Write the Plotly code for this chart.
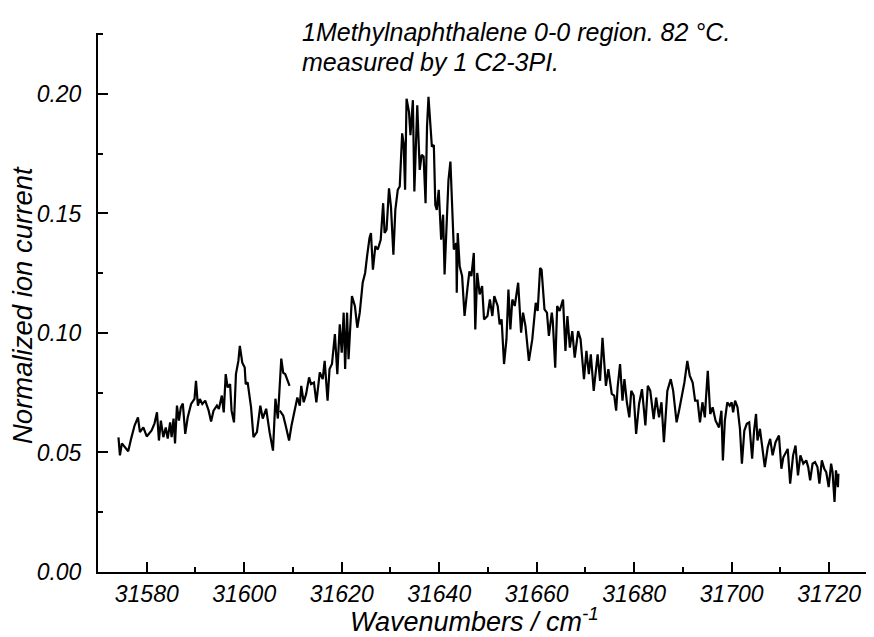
import plotly.graph_objects as go

# Scan 1 (ends ~31609 cm-1)
wn_a = [31574.2, 31574.5, 31574.9, 31576.2, 31576.8, 31577.5, 31578.2, 31578.6, 31579.3, 31580.0,
        31581.0, 31581.6, 31582.1, 31582.5, 31582.9, 31583.4, 31583.9, 31584.3, 31584.8, 31585.1,
        31585.5, 31585.8, 31586.2, 31586.6, 31587.0, 31587.4, 31587.9, 31588.4, 31589.1, 31589.8,
        31590.1, 31590.5, 31590.9, 31591.4, 31592.0, 31592.7, 31593.2, 31593.7, 31594.4, 31594.8,
        31595.4, 31595.8, 31596.2, 31596.6, 31597.1, 31597.4, 31597.9, 31598.3, 31598.8, 31599.1,
        31599.6, 31600.1, 31600.3, 31600.7, 31601.4, 31601.9, 31602.6, 31603.3, 31603.8, 31604.5,
        31605.2, 31605.9, 31606.4, 31606.9, 31607.6, 31608.0, 31608.4, 31608.8, 31609.3]
ion_a = [0.0563, 0.0488, 0.0538, 0.0505, 0.0558, 0.0613, 0.0647, 0.0585, 0.0605, 0.0567,
         0.0592, 0.0622, 0.0668, 0.0550, 0.0633, 0.0564, 0.0605, 0.0558, 0.0626, 0.0564,
         0.0642, 0.0538, 0.0696, 0.0633, 0.0689, 0.0705, 0.0578, 0.0646, 0.0703, 0.0724,
         0.0800, 0.0696, 0.0724, 0.0703, 0.0717, 0.0675, 0.0630, 0.0675, 0.0696, 0.0682,
         0.0738, 0.0668, 0.0828, 0.0772, 0.0786, 0.0675, 0.0626, 0.0828, 0.0883, 0.0946,
         0.0876, 0.0855, 0.0786, 0.0793, 0.0689, 0.0564, 0.0585, 0.0696, 0.0642, 0.0683,
         0.0585, 0.0508, 0.0725, 0.0642, 0.0893, 0.0833, 0.0828, 0.0808, 0.0779]

# Scan 2 (starts ~31607 cm-1)
wn_b = [31607.3, 31608.0, 31608.5, 31609.2, 31609.7, 31610.2, 31610.9, 31611.4, 31611.7, 31612.2,
        31612.7, 31613.3, 31613.7, 31614.3, 31614.8, 31615.5, 31616.1, 31616.5, 31617.1, 31617.5,
        31618.0, 31618.6, 31619.1, 31619.6, 31620.0, 31620.4, 31620.7, 31621.1, 31621.4, 31622.1,
        31622.7, 31623.2, 31623.7, 31624.3, 31624.8, 31625.2, 31625.7, 31626.0, 31626.4, 31626.9,
        31627.4, 31628.0, 31628.5, 31628.8, 31629.2, 31629.7, 31630.1, 31630.6, 31631.0, 31631.5,
        31631.9, 31632.4, 31632.7, 31633.0, 31633.3, 31633.8, 31634.1, 31634.6, 31634.9, 31635.5,
        31636.0, 31636.4, 31636.8, 31637.2, 31637.5, 31637.8, 31638.2, 31638.5, 31638.9, 31639.2,
        31639.5, 31639.9, 31640.4, 31640.8, 31641.1, 31641.5, 31641.9, 31642.3, 31642.7, 31643.0,
        31643.5, 31643.6, 31643.8, 31644.2, 31644.7, 31645.2, 31645.8, 31646.2, 31646.6, 31647.1,
        31647.4, 31647.8, 31648.3, 31648.8, 31649.2, 31649.9, 31650.4, 31650.9, 31651.3, 31652.0,
        31652.4, 31652.8, 31653.3, 31653.8, 31654.2, 31654.6, 31655.0, 31655.5, 31656.2, 31656.8,
        31657.2, 31657.7, 31658.4, 31659.1, 31659.8, 31660.2, 31660.7, 31661.0, 31661.6, 31662.1,
        31662.5, 31663.1, 31663.3, 31663.8, 31664.2, 31664.7, 31665.4, 31665.9, 31666.3, 31666.8,
        31667.3, 31667.8, 31668.5, 31669.0, 31669.7, 31670.2, 31670.7, 31671.1, 31671.7, 31672.5,
        31673.0, 31673.5, 31674.2, 31674.7, 31675.4, 31675.9, 31676.3, 31676.6, 31677.1, 31677.6,
        31678.0, 31678.5, 31679.0, 31679.4, 31679.9, 31680.4, 31681.0, 31681.6, 31682.3, 31682.8,
        31683.3, 31684.0, 31684.5, 31685.1, 31685.6, 31686.1, 31686.8, 31687.5, 31688.0, 31688.7,
        31689.2, 31689.8, 31690.3, 31690.9, 31691.4, 31692.0, 31692.5, 31693.0, 31693.5, 31694.0,
        31694.5, 31694.7, 31695.1, 31695.6, 31696.1, 31696.7, 31697.4, 31697.9, 31698.2, 31698.6,
        31699.1, 31699.6, 31700.0, 31700.3, 31700.7, 31701.2, 31701.7, 31702.1, 31702.6, 31703.1,
        31703.6, 31704.2, 31704.6, 31705.0, 31705.3, 31705.8, 31706.4, 31706.8, 31707.4, 31707.9,
        31708.4, 31709.0, 31709.7, 31710.2, 31710.6, 31711.2, 31711.5, 31712.0, 31712.6, 31713.1,
        31713.6, 31714.1, 31714.7, 31715.3, 31715.7, 31716.1, 31716.6, 31717.1, 31717.6, 31718.0,
        31718.5, 31719.0, 31719.4, 31719.9, 31720.4, 31720.7, 31721.1, 31721.4, 31721.8, 31721.9]
ion_b = [0.0675, 0.0654, 0.0613, 0.0550, 0.0613, 0.0668, 0.0730, 0.0696, 0.0779, 0.0710,
         0.0745, 0.0814, 0.0786, 0.0793, 0.0710, 0.0835, 0.0807, 0.0883, 0.0717, 0.0849,
         0.0870, 0.0995, 0.0828, 0.1036, 0.0918, 0.1085, 0.0849, 0.1085, 0.0890, 0.1154,
         0.1113, 0.1022, 0.1085, 0.1210, 0.1251, 0.1321, 0.1397, 0.1418, 0.1265, 0.1363,
         0.1349, 0.1390, 0.1543, 0.1418, 0.1432, 0.1605, 0.1529, 0.1328, 0.1515, 0.1599,
         0.1613, 0.1835, 0.1793, 0.1599, 0.1980, 0.1925, 0.1828, 0.1974, 0.1592, 0.1953,
         0.1682, 0.1745, 0.1738, 0.1543, 0.1863, 0.1988, 0.1890, 0.1779, 0.1786, 0.1536,
         0.1515, 0.1599, 0.1390, 0.1495, 0.1245, 0.1446, 0.1640, 0.1717, 0.1501, 0.1349,
         0.1376, 0.1168, 0.1418, 0.1279, 0.1238, 0.1071, 0.1189, 0.1258, 0.1238, 0.1335,
         0.1015, 0.1251, 0.1161, 0.1196, 0.1057, 0.1071, 0.1140, 0.1071, 0.1154, 0.1113,
         0.1036, 0.1057, 0.0870, 0.0974, 0.1182, 0.1015, 0.1140, 0.1113, 0.1210, 0.1001,
         0.1085, 0.1029, 0.0883, 0.0974, 0.1126, 0.1092, 0.1272, 0.1265, 0.1099, 0.1085,
         0.0988, 0.1085, 0.1050, 0.0855, 0.1113, 0.1092, 0.1140, 0.0925, 0.1071, 0.0939,
         0.1008, 0.0897, 0.1008, 0.0974, 0.0807, 0.0925, 0.0828, 0.0911, 0.0758, 0.0911,
         0.0800, 0.0980, 0.0779, 0.0849, 0.0745, 0.0738, 0.0675, 0.0772, 0.0870, 0.0717,
         0.0807, 0.0710, 0.0647, 0.0758, 0.0738, 0.0578, 0.0703, 0.0765, 0.0613, 0.0779,
         0.0758, 0.0640, 0.0730, 0.0647, 0.0710, 0.0543, 0.0758, 0.0807, 0.0758, 0.0626,
         0.0675, 0.0745, 0.0793, 0.0883, 0.0821, 0.0793, 0.0717, 0.0717, 0.0626, 0.0710,
         0.0647, 0.0717, 0.0842, 0.0661, 0.0689, 0.0633, 0.0605, 0.0675, 0.0467, 0.0633,
         0.0710, 0.0696, 0.0710, 0.0668, 0.0717, 0.0689, 0.0599, 0.0453, 0.0592, 0.0620,
         0.0626, 0.0474, 0.0592, 0.0661, 0.0550, 0.0599, 0.0508, 0.0439, 0.0522, 0.0557,
         0.0488, 0.0543, 0.0571, 0.0432, 0.0480, 0.0508, 0.0515, 0.0370, 0.0488, 0.0529,
         0.0404, 0.0488, 0.0453, 0.0467, 0.0439, 0.0383, 0.0453, 0.0460, 0.0439, 0.0370,
         0.0467, 0.0432, 0.0418, 0.0355, 0.0453, 0.0418, 0.0293, 0.0425, 0.0355, 0.0411]

x_ticks = [31580, 31600, 31620, 31640, 31660, 31680, 31700, 31720]
y_ticks = [0.00, 0.05, 0.10, 0.15, 0.20]
title_lines = ["1Methylnaphthalene 0-0 region. 82 °C.", "measured by 1 C2-3PI."]

FONT = "Liberation Sans, Arial, Helvetica, sans-serif"

# page body has an 8px margin: figure is sized/offset so the plot area lands
# at x 98..874, y 33..572 of the 874x637 window
OFF = 8
W, H = 874 - OFF, 637 - OFF
L, T, B = 98 - OFF, 33 - OFF, 637 - 572
PW, PH = W - L, H - T - B


def px(xp):
    return (xp - 98) / PW


def py(yp):
    return (572 - yp) / PH


fig = go.Figure()
for wx, iy in [(wn_a, ion_a), (wn_b, ion_b)]:
    fig.add_trace(go.Scatter(x=wx, y=iy, mode="lines",
                             line=dict(color="black", width=2.2),
                             showlegend=False, hoverinfo="skip"))

axis_common = dict(showline=True, linecolor="black", linewidth=2,
                   ticks="inside", ticklen=10, tickwidth=2, tickcolor="black",
                   showgrid=False, zeroline=False, mirror=False,
                   tickfont=dict(family=FONT, size=23, color="black", style="italic"))

fig.update_xaxes(range=[31570, 31729.2], tickvals=x_ticks,
                 ticktext=[str(v) for v in x_ticks],
                 minor=dict(ticks="inside", ticklen=5, tickwidth=2, tickcolor="black",
                            tick0=31570, dtick=20),
                 ticklabelstandoff=0, **axis_common)
fig.update_yaxes(range=[0, 0.2255], tickvals=y_ticks,
                 ticktext=[f"{v:.2f}" for v in y_ticks],
                 minor=dict(ticks="inside", ticklen=5, tickwidth=2, tickcolor="black",
                            tick0=0.025, dtick=0.05),
                 ticklabelstandoff=10, **axis_common)

ann_font = dict(family=FONT, size=25, color="black", style="italic")
fig.add_annotation(text=title_lines[0], xref="paper", yref="paper",
                   x=px(300), y=py(32), xanchor="left", yanchor="middle",
                   showarrow=False, font=ann_font)
fig.add_annotation(text=title_lines[1], xref="paper", yref="paper",
                   x=px(300), y=py(62), xanchor="left", yanchor="middle",
                   showarrow=False, font=ann_font)
fig.add_annotation(text="Wavenumbers / cm<sup>-1</sup>", xref="paper", yref="paper",
                   x=px(474), y=py(620), xanchor="center", yanchor="middle",
                   showarrow=False, font=dict(family=FONT, size=27, color="black", style="italic"))
fig.add_annotation(text="Normalized ion current", xref="paper", yref="paper",
                   x=px(22), y=py(305), xanchor="center", yanchor="middle",
                   textangle=-90, showarrow=False,
                   font=dict(family=FONT, size=27.5, color="black", style="italic"))

fig.update_layout(width=W, height=H,
                  margin=dict(l=L, r=0, t=T, b=B, pad=0),
                  paper_bgcolor="white", plot_bgcolor="white",
                  font=dict(family=FONT, color="black"))

fig.write_html("out.html")
